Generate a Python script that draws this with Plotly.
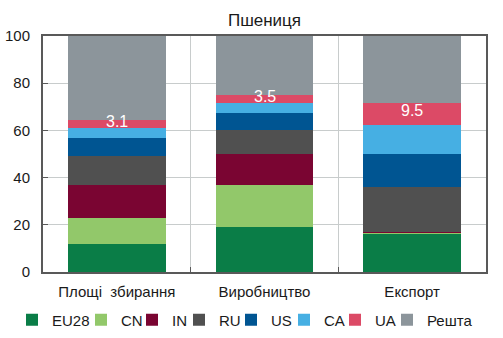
import plotly.graph_objects as go

categories = ["Площі  збирання", "Виробництво", "Експорт"]
series_names = ["EU28", "CN", "IN", "RU", "US", "CA", "UA", "Решта"]
eu28 = [12.0, 19.1, 16.4]
cn = [11.0, 17.8, 0.2]
inn = [14.0, 13.1, 0.4]
ru = [12.3, 10.2, 19.0]
us = [7.6, 7.2, 14.0]
ca = [4.2, 4.2, 12.3]
ua = [3.1, 3.5, 9.5]
ua_labels = ["3.1", "3.5", "9.5"]
rest = [round(100 - sum(v), 1) for v in zip(eu28, cn, inn, ru, us, ca, ua)]
colors = ["#0a7d47", "#92c86a", "#7a0532", "#505050", "#005592", "#46afe3", "#dc4a66", "#8c959b"]
all_series = [eu28, cn, inn, ru, us, ca, ua, rest]
y_ticks = [0, 20, 40, 60, 80, 100]
# legend text start positions (px)
legend_text_px = [50, 119, 170, 217, 269, 322, 373, 425]

W, H = 503, 338
ML, MR, MT, MB = 43, 17, 36, 66
PW = W - ML - MR
PH = H - MT - MB

xpos = list(range(len(categories)))
fig = go.Figure()
layout_legends = {}
for k, (name, vals, col) in enumerate(zip(series_names, all_series, colors)):
    lg = "legend" if k == 0 else f"legend{k + 1}"
    fig.add_trace(go.Bar(x=xpos, y=vals, name=name, marker=dict(color=col, line=dict(width=0)),
                         width=0.66, legend=lg))
    left_px = legend_text_px[k] + 2 - 40
    layout_legends[lg] = dict(
        x=(left_px - ML) / PW, xanchor="left", xref="paper",
        y=-(320 - (MT + PH)) / PH, yanchor="middle", yref="paper",
        orientation="h", itemwidth=30, bgcolor="rgba(0,0,0,0)", borderwidth=0,
        font=dict(size=15),
    )

# UA labels
for i in xpos:
    base = eu28[i] + cn[i] + inn[i] + ru[i] + us[i] + ca[i]
    fig.add_annotation(x=i, y=base + ua[i] / 2 + 1.2, text=ua_labels[i], showarrow=False,
                       font=dict(color="white", size=16, family="Liberation Sans, Arial"),
                       xref="x", yref="y")

fig.update_layout(
    barmode="stack",
    width=W, height=H,
    margin=dict(l=ML, r=MR, t=MT, b=MB, autoexpand=False),
    paper_bgcolor="white", plot_bgcolor="white",
    font=dict(family="Liberation Sans, Arial", size=15, color="#1a1a1a"),
    title=dict(text="Пшениця", x=(264.5) / W, xanchor="center", y=1 - 20 / H, yanchor="middle",
               font=dict(size=17)),
    showlegend=True,
    **layout_legends,
)
fig.update_xaxes(
    range=[-0.5, 2.5], tickmode="array", tickvals=xpos, ticktext=categories,
    showgrid=False, showline=True, linecolor="#595959", linewidth=2, mirror=True,
    ticks="", ticklabelstandoff=5,
    minor=dict(tickmode="array", tickvals=[0.5, 1.5], showgrid=True, gridcolor="#c8cccc",
               gridwidth=1, ticks="inside", ticklen=5, tickcolor="#595959", tickwidth=1),
    zeroline=False,
)
fig.update_yaxes(
    range=[0, 100], tickmode="array", tickvals=y_ticks,
    showgrid=True, gridcolor="#c8cccc", gridwidth=1,
    showline=True, linecolor="#595959", linewidth=2, mirror=True,
    ticks="inside", ticklen=5, tickcolor="#595959", zeroline=False,
    ticklabelstandoff=8,
)
fig.write_html("out.html")
